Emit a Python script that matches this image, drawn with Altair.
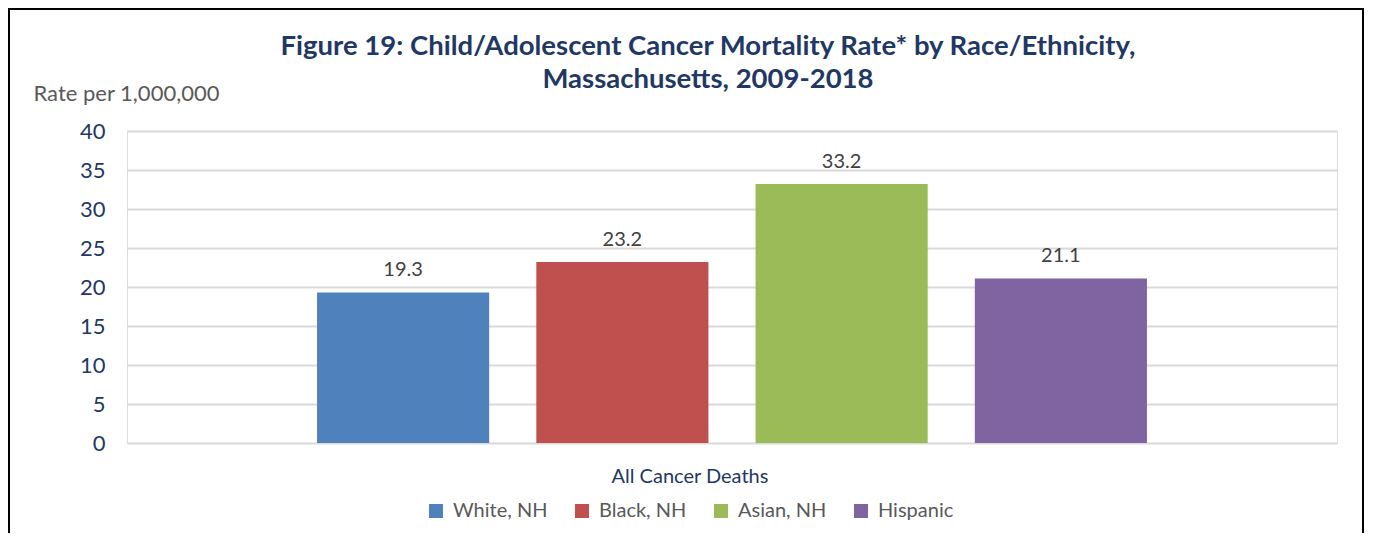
import altair as alt
import pandas as pd

group = ["All Cancer Deaths"] * 4
races = ["White, NH", "Black, NH", "Asian, NH", "Hispanic"]
rates = [19.3, 23.2, 33.2, 21.1]
colors = ["#4F81BD", "#C0504D", "#9BBB59", "#8064A2"]
y_ticks = [0, 5, 10, 15, 20, 25, 30, 35, 40]

df = pd.DataFrame({"group": group, "race": races, "rate": rates})

FONT = "Lato"
NAVY = "#1F3864"
GRAY = "#595959"

x = alt.X(
    "group:N",
    scale=alt.Scale(paddingOuter=0.19, paddingInner=0),
    axis=alt.Axis(
        title=None, labelAngle=0, labelFontSize=20, labelColor=NAVY, labelFont=FONT,
        ticks=False, domain=False, labelPadding=23, labelOffset=-42,
    ),
)
xoff = alt.XOffset("race:N", sort=races, scale=alt.Scale(paddingInner=0.215, paddingOuter=0.107))

y = alt.Y(
    "rate:Q",
    scale=alt.Scale(domain=[0, 40], nice=False),
    axis=alt.Axis(
        values=y_ticks, title="Rate per 1,000,000", titleAngle=0, titleAlign="left",
        titleBaseline="middle", titleX=-94, titleY=-38, titleFont=FONT, titleFontSize=22,
        titleFontWeight="normal", titleColor=GRAY,
        labelFont=FONT, labelFontSize=22, labelColor=NAVY, labelPadding=22,
        ticks=False, domain=False, gridColor="#D9D9D9", gridWidth=2,
    ),
)

color = alt.Color(
    "race:N", sort=races,
    scale=alt.Scale(domain=races, range=colors),
    legend=alt.Legend(
        title=None, orient="none", legendX=299, legendY=370, direction="horizontal",
        columns=4, symbolType="square", symbolSize=196, symbolStrokeWidth=0,
        labelFont=FONT, labelFontSize=20, labelColor=GRAY, labelOffset=7,
        columnPadding=24,
    ),
)

bars = alt.Chart(df).mark_bar().encode(x=x, xOffset=xoff, y=y, color=color)

labels = alt.Chart(df).mark_text(
    dy=-22, font=FONT, fontSize=20, color="#404040"
).encode(x=x, xOffset=xoff, y=y, text=alt.Text("rate:Q", format=".1f"))

frame = alt.Chart(alt.Data(values=[{}])).mark_rect(
    fill=None, stroke="black", strokeWidth=2, clip=False
).encode(
    x=alt.value(-118), x2=alt.value(1236), y=alt.value(-122), y2=alt.value(420)
)

chart = alt.layer(bars, labels, frame).properties(
    width=1210, height=312,
    padding={"left": 119, "top": 123, "right": 28, "bottom": 90},
    autosize=alt.AutoSizeParams(type="none"),
    title=alt.TitleParams(
        text=["Figure 19: Child/Adolescent Cancer Mortality Rate* by Race/Ethnicity,",
              "Massachusetts, 2009-2018"],
        font=FONT, fontSize=27.5, fontWeight="bold", color=NAVY,
        anchor="middle", dx=-24, offset=-85, lineHeight=33,
    ),
).configure_view(fill="#C6D9F1", stroke=None).configure(background="white")

chart.save("out.html", embed_options={"renderer": "svg", "actions": False})
